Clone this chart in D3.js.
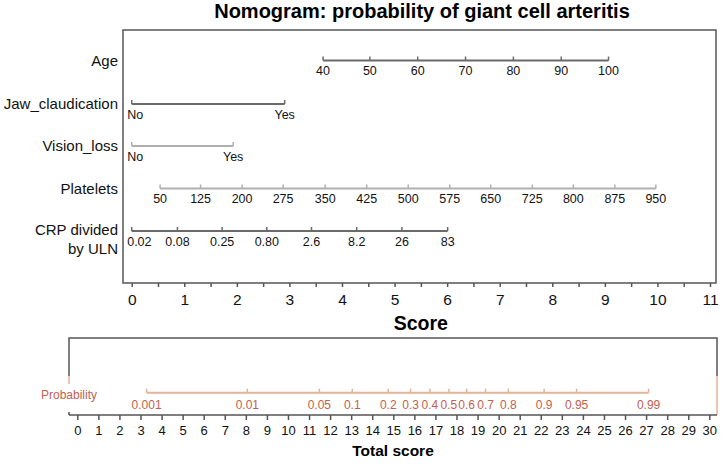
<!DOCTYPE html>
<html>
<head>
<meta charset="utf-8">
<script src="https://cdn.jsdelivr.net/npm/d3@7"></script>
<style>
  html, body { margin: 0; padding: 0; background: #fff; }
  svg text { font-family: "Liberation Sans", Arial, Helvetica, sans-serif; }
</style>
</head>
<body>
<div id="chart"></div>
<script>
// Nomogram – Riesenzellarteriitis

// Werte je Variable: Beschriftung + Punktlage auf der Score-Achse
const ageLabels = ["40", "50", "60", "70", "80", "90", "100"];
const agePoints = [3.64, 4.53, 5.44, 6.35, 7.26, 8.17, 9.07];

const jawLabels = ["No", "Yes"];
const jawPoints = [0, 2.91];

const visionLabels = ["No", "Yes"];
const visionPoints = [0, 1.93];

const plateletLabels = ["50", "125", "200", "275", "350", "425", "500", "575", "650", "725", "800", "875", "950"];
const plateletPoints = [0.54, 1.31, 2.10, 2.88, 3.68, 4.47, 5.26, 6.05, 6.83, 7.62, 8.40, 9.19, 9.97];

const crpLabels = ["0.02", "0.08", "0.25", "0.80", "2.6", "8.2", "26", "83"];
const crpPoints = [0, 0.87, 1.72, 2.57, 3.42, 4.28, 5.14, 6.01];

const probLabels = ["0.001", "0.01", "0.05", "0.1", "0.2", "0.3", "0.4", "0.5", "0.6", "0.7", "0.8", "0.9", "0.95", "0.99"];
const probPoints = [3.29, 8.07, 11.49, 13.05, 14.76, 15.82, 16.74, 17.64, 18.48, 19.38, 20.46, 22.16, 23.70, 27.12];

const scoreTicks = d3.range(0, 11.01, 0.5);
const totalTicks = d3.range(0, 31, 1);

const W = 724, H = 470;
const svg = d3.select("#chart").append("svg")
  .attr("width", W)
  .attr("height", H);

// Skalen
const x = d3.scaleLinear().domain([0, 11]).range([131.7, 710]);
const xt = d3.scaleLinear().domain([0, 30]).range([77.3, 709.3]);

const cDark = "#6a6a6a";
const cLight = "#b0b0b0";
const cFrame = "#555";
const cProbLine = "#e3b497";
const cProbText = "#c4604e";

// Titel
svg.append("text")
  .attr("x", 422)
  .attr("y", 18)
  .attr("text-anchor", "middle")
  .style("font-size", "20px")
  .style("font-weight", "700")
  .text("Nomogram: probability of giant cell arteritis");

// Rahmen oben
const frame = { x0: 123, x1: 716, y0: 30, y1: 283 };
svg.append("rect")
  .attr("x", frame.x0)
  .attr("y", frame.y0)
  .attr("width", frame.x1 - frame.x0)
  .attr("height", frame.y1 - frame.y0)
  .attr("fill", "none")
  .attr("stroke", cFrame)
  .attr("stroke-width", 1.5);

// Zeilen
const rows = [
  { name: ["Age"], y: 60.5, labels: ageLabels, pts: agePoints, color: cDark },
  { name: ["Jaw_claudication"], y: 104, labels: jawLabels, pts: jawPoints, color: cDark },
  { name: ["Vision_loss"], y: 146, labels: visionLabels, pts: visionPoints, color: cLight },
  { name: ["Platelets"], y: 188.5, labels: plateletLabels, pts: plateletPoints, color: cLight },
  { name: ["CRP divided", "by ULN"], y: 231, labels: crpLabels, pts: crpPoints, color: cDark }
];

rows.forEach(r => {
  const g = svg.append("g");
  g.append("line")
    .attr("x1", x(d3.min(r.pts)))
    .attr("x2", x(d3.max(r.pts)))
    .attr("y1", r.y)
    .attr("y2", r.y)
    .attr("stroke", r.color)
    .attr("stroke-width", 2);

  g.selectAll("line.tick")
    .data(r.pts)
    .join("line")
    .attr("class", "tick")
    .attr("x1", d => x(d))
    .attr("x2", d => x(d))
    .attr("y1", r.y)
    .attr("y2", r.y - 4)
    .attr("stroke", r.color)
    .attr("stroke-width", 1.5);

  // Beschriftung am Nullpunkt rückt nach innen (wie im Original)
  g.selectAll("text.lab")
    .data(r.labels)
    .join("text")
    .attr("class", "lab")
    .attr("x", (d, i) => r.pts[i] === 0 ? x(0) - 4.5 : x(r.pts[i]))
    .attr("y", r.y + 14.5)
    .attr("text-anchor", (d, i) => r.pts[i] === 0 ? "start" : "middle")
    .style("font-size", "12.5px")
    .style("fill", "#111")
    .text(d => d);

  const nameY = r.name.length === 1 ? r.y + 5 : r.y + 4;
  r.name.forEach((n, i) => {
    g.append("text")
      .attr("x", 118)
      .attr("y", nameY + i * 19)
      .attr("text-anchor", "end")
      .style("font-size", "15px")
      .style("fill", "#111")
      .text(n);
  });
});

// Score-Achse
const scoreAxis = d3.axisBottom(x)
  .tickValues(scoreTicks)
  .tickSize(4)
  .tickPadding(7)
  .tickFormat(d => Number.isInteger(d) ? d : "");

const gScore = svg.append("g")
  .attr("transform", `translate(0,${frame.y1})`)
  .call(scoreAxis);
gScore.select(".domain").remove();
gScore.selectAll(".tick line").attr("stroke", cFrame).attr("stroke-width", 1.5);
gScore.selectAll(".tick text")
  .style("font-size", "15.5px")
  .style("font-family", "'Liberation Sans', Arial, sans-serif")
  .style("fill", "#111");

svg.append("text")
  .attr("x", (x(0) + x(11)) / 2)
  .attr("y", 330)
  .attr("text-anchor", "middle")
  .style("font-size", "19.5px")
  .style("font-weight", "700")
  .text("Score");

// Unterer Rahmen
const bot = { x0: 69, x1: 717, y0: 338, yMid: 376, yAxis: 415 };
svg.append("path")
  .attr("d", `M${bot.x0},${bot.yMid}V${bot.y0}H${bot.x1}V${bot.yMid}`)
  .attr("fill", "none")
  .attr("stroke", cFrame)
  .attr("stroke-width", 1.5);
svg.append("line")
  .attr("x1", bot.x0).attr("x2", bot.x0)
  .attr("y1", bot.yMid).attr("y2", bot.yMid + 8)
  .attr("stroke", cProbLine).attr("stroke-width", 1.5);
svg.append("line")
  .attr("x1", bot.x1).attr("x2", bot.x1)
  .attr("y1", bot.yMid).attr("y2", bot.yAxis)
  .attr("stroke", cProbLine).attr("stroke-width", 1.5);

// Wahrscheinlichkeits-Achse
const probY = 392.7;
svg.append("text")
  .attr("x", bot.x0)
  .attr("y", probY + 6)
  .attr("text-anchor", "middle")
  .style("font-size", "12px")
  .style("fill", cProbText)
  .text("Probability");

svg.append("line")
  .attr("x1", xt(d3.min(probPoints)))
  .attr("x2", xt(d3.max(probPoints)))
  .attr("y1", probY)
  .attr("y2", probY)
  .attr("stroke", cProbLine)
  .attr("stroke-width", 2);

svg.selectAll("line.ptick")
  .data(probPoints)
  .join("line")
  .attr("class", "ptick")
  .attr("x1", d => xt(d))
  .attr("x2", d => xt(d))
  .attr("y1", probY)
  .attr("y2", probY - 4)
  .attr("stroke", cProbLine)
  .attr("stroke-width", 1.5);

svg.selectAll("text.plab")
  .data(probLabels)
  .join("text")
  .attr("class", "plab")
  .attr("x", (d, i) => xt(probPoints[i]))
  .attr("y", probY + 16.5)
  .attr("text-anchor", "middle")
  .style("font-size", "12px")
  .style("fill", cProbText)
  .text(d => d);

// Gesamtscore-Achse
svg.append("line")
  .attr("x1", bot.x0)
  .attr("x2", bot.x1)
  .attr("y1", bot.yAxis)
  .attr("y2", bot.yAxis)
  .attr("stroke", cFrame)
  .attr("stroke-width", 1.5);
svg.append("line")
  .attr("x1", bot.x0).attr("x2", bot.x0)
  .attr("y1", bot.yAxis).attr("y2", bot.yAxis - 3)
  .attr("stroke", cFrame).attr("stroke-width", 1.5);

const totalAxis = d3.axisBottom(xt)
  .tickValues(totalTicks)
  .tickSize(5)
  .tickPadding(6)
  .tickFormat(d3.format("d"));

const gTotal = svg.append("g")
  .attr("transform", `translate(0,${bot.yAxis})`)
  .call(totalAxis);
gTotal.select(".domain").remove();
gTotal.selectAll(".tick line").attr("stroke", cFrame).attr("stroke-width", 1.5);
gTotal.selectAll(".tick text")
  .style("font-size", "13px")
  .style("font-family", "'Liberation Sans', Arial, sans-serif")
  .style("fill", "#111");

svg.append("text")
  .attr("x", 393)
  .attr("y", 456)
  .attr("text-anchor", "middle")
  .style("font-size", "15.5px")
  .style("font-weight", "700")
  .text("Total score");
</script>
</body>
</html>
